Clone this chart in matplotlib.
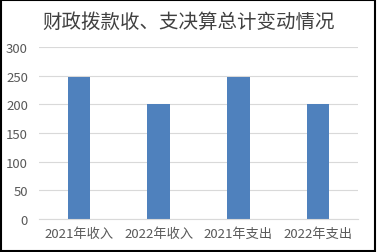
import matplotlib.pyplot as plt
from matplotlib.patches import Rectangle

plt.rcParams["font.family"] = ["Noto Sans CJK SC", "DejaVu Sans"]

categories = ["2021年收入", "2022年收入", "2021年支出", "2022年支出"]
values = [248, 200, 248, 200]
title = "财政拨款收、支决算总计变动情况"

fig = plt.figure(figsize=(3.77, 2.53), dpi=100)
ax = fig.add_axes([39 / 377, 33 / 253, 319 / 377, 172 / 253])

x = range(len(categories))
ax.bar(x, values, width=0.28, color="#4F81BD", zorder=2)
ax.set_xlim(-0.5, len(categories) - 0.5)
ax.set_ylim(0, 300)
ax.set_yticks(range(0, 301, 50))
ax.set_xticks(list(x))
ax.set_xticklabels(categories)

ax.grid(axis="y", color="#D9D9D9", linewidth=0.8, zorder=0)
for side in ["top", "right", "left"]:
    ax.spines[side].set_visible(False)
ax.spines["bottom"].set_color("#D9D9D9")
ax.tick_params(axis="both", length=0, labelsize=9.5, colors="#595959")
ax.tick_params(axis="y", pad=8)
ax.tick_params(axis="x", pad=6)

fig.text(0.5, 1 - 22 / 253, title, ha="center", va="center", fontsize=14, color="#404040")

# outer chart border
fig.patches.append(Rectangle((0.002, 0.004), 0.993, 0.993, transform=fig.transFigure,
                             fill=False, edgecolor="black", linewidth=1.5))

fig.savefig("out.png", dpi=100)
